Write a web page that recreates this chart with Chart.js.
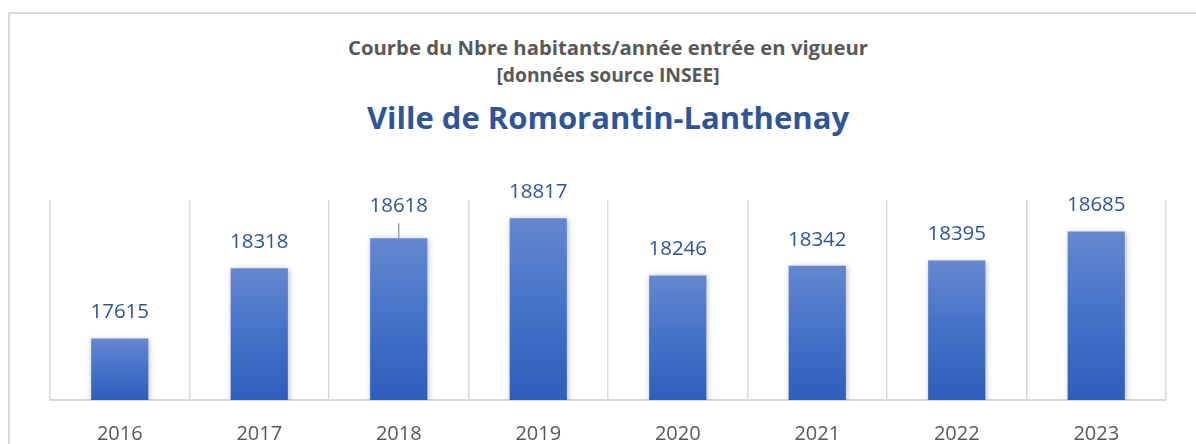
<!DOCTYPE html>
<html>
<head>
<meta charset="utf-8">
<script src="https://cdn.jsdelivr.net/npm/chart.js@4.4.1/dist/chart.umd.min.js"></script>
<style>
  body { margin: 0; background: #fff; }
  #frame { position: absolute; left: 8px; top: 12px; width: 1300px; height: 500px;
           border-left: 2px solid #d9d9d9; border-top: 2px solid #d9d9d9; }
  .t { position: absolute; left: 0; width: 1216px; text-align: center; white-space: nowrap;
       font-family: "Open Sans", sans-serif; font-weight: bold; }
  #l1 { top: 34px; font-size: 20.3px; color: #595959; line-height: 26px; }
  #l2 { top: 62px; font-size: 19.3px; color: #595959; line-height: 26px; }
  #l3 { top: 97px; font-size: 31px; color: #2f5597; line-height: 40px; }
  #chart { position: absolute; left: 0; top: 0; }
</style>
</head>
<body>
<div id="frame"></div>
<div class="t" id="l1">Courbe du Nbre habitants/année entrée en vigueur</div>
<div class="t" id="l2">[données source INSEE]</div>
<div class="t" id="l3">Ville de Romorantin-Lanthenay</div>
<canvas id="chart" width="1196" height="444"></canvas>
<script>
"use strict";

// data
let years = ['2016', '2017', '2018', '2019', '2020', '2021', '2022', '2023'];
let habitants = [17615, 18318, 18618, 18817, 18246, 18342, 18395, 18685];

// vertical gradient per bar, from its top to the baseline
function barGradient(c) {
  const chart = c.chart;
  if (!chart.chartArea || c.dataIndex === undefined) return '#4472c4';
  const yScale = chart.scales.y;
  const top = yScale.getPixelForValue(habitants[c.dataIndex]);
  const bottom = chart.chartArea.bottom;
  const g = chart.ctx.createLinearGradient(0, top, 0, bottom);
  g.addColorStop(0, '#6587cf');
  g.addColorStop(0.5, '#4472c8');
  g.addColorStop(1, '#2e5ebb');
  return g;
}

// soft shadow around the bars
const barShadow = {
  id: 'barShadow',
  beforeDatasetDraw(chart) {
    const ctx = chart.ctx;
    ctx.save();
    ctx.shadowColor = 'rgba(0,0,0,0.28)';
    ctx.shadowBlur = 6;
    ctx.shadowOffsetX = 1;
    ctx.shadowOffsetY = 1;
  },
  afterDatasetDraw(chart) {
    chart.ctx.restore();
  }
};

// value labels above the bars
const valueLabels = {
  id: 'valueLabels',
  afterDatasetsDraw(chart, args, opts) {
    const ctx = chart.ctx;
    ctx.save();
    ctx.font = '20.5px "Open Sans"';
    ctx.fillStyle = '#2f5597';
    ctx.textAlign = 'center';
    ctx.textBaseline = 'middle';
    chart.getDatasetMeta(0).data.forEach((el, i) => {
      let lift = opts.offset;
      if (i === opts.leaderIndex) {
        lift = opts.leaderOffset;
        ctx.strokeStyle = '#a6a6a6';
        ctx.lineWidth = 1.5;
        ctx.beginPath();
        ctx.moveTo(el.x, el.y - 15);
        ctx.lineTo(el.x, el.y);
        ctx.stroke();
      }
      ctx.fillText(String(habitants[i]), el.x, el.y - lift);
    });
    ctx.restore();
  }
};

let chart = new Chart(document.getElementById('chart'), {
  type: 'bar',
  data: {
    labels: years,
    datasets: [{
      data: habitants,
      backgroundColor: barGradient,
      barPercentage: 0.41,
      categoryPercentage: 1
    }]
  },
  options: {
    responsive: false,
    animation: false,
    layout: { padding: { left: 50, right: 30, top: 200, bottom: -24 } },
    plugins: {
      legend: { display: false },
      tooltip: { enabled: false },
      valueLabels: { offset: 26, leaderIndex: 2, leaderOffset: 32 }
    },
    scales: {
      x: {
        grid: { color: '#d9d9d9', lineWidth: 1.5, offset: true, drawTicks: false },
        border: { color: '#d9d9d9', width: 2 },
        ticks: { color: '#595959', padding: 22, font: { family: 'Open Sans', size: 20 } }
      },
      y: {
        display: false,
        min: 17000,
        max: 19000
      }
    }
  },
  plugins: [barShadow, valueLabels]
});
</script>
</body>
</html>
